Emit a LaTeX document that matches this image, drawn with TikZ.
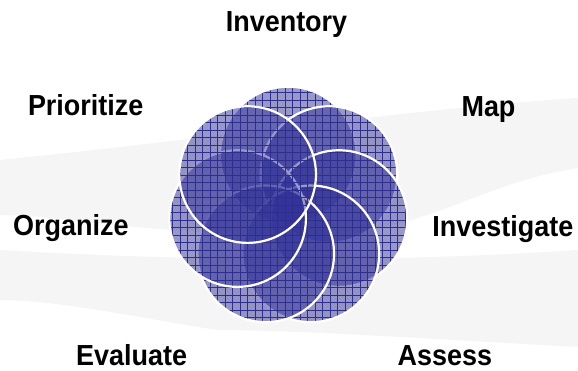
\documentclass[tikz,border=0pt]{standalone}
\usepackage{fontspec}
\usepackage{graphicx}
\setmainfont{Liberation Sans}
\usetikzlibrary{patterns}

% square grid used inside the petals
\pgfdeclarepatternformonly{petalgrid}{\pgfqpoint{-1pt}{-1pt}}{\pgfqpoint{7.5pt}{7.5pt}}{\pgfqpoint{7.5pt}{7.5pt}}{%
  \pgfsetlinewidth{0.6pt}%
  \pgfpathmoveto{\pgfqpoint{0pt}{0pt}}\pgfpathlineto{\pgfqpoint{0pt}{7.6pt}}%
  \pgfpathmoveto{\pgfqpoint{0pt}{0pt}}\pgfpathlineto{\pgfqpoint{7.6pt}{0pt}}%
  \pgfusepath{stroke}}

\definecolor{petalblue}{HTML}{333399}
\definecolor{petalline}{HTML}{2E2E8F}
\definecolor{swoosh}{HTML}{F5F5F5}

\newcommand\steplabel[1]{\scalebox{0.93}[1]{#1}}

\tikzset{
  petal/.style={circle, inner sep=0pt, minimum size=136.6pt,
    fill=petalblue, fill opacity=0.5,
    postaction={pattern=petalgrid, pattern color=petalline, fill opacity=0.8},
    postaction={draw=white, line width=2.2pt, draw opacity=1}},
  steptext/.style={anchor=base, inner sep=0pt,
    font=\bfseries\fontsize{29}{32}\selectfont, text=black},
}

\begin{document}
\begin{tikzpicture}[x=1pt, y=-1pt]
  \useasboundingbox (0,0) rectangle (578,370);
  \fill[white] (0,0) rectangle (578,370);

  % soft background waves
  \fill[swoosh] (0,160) .. controls (200,140) and (400,110) .. (578,98)
    -- (578,168) .. controls (470,185) and (430,235) .. (300,235)
    .. controls (150,235) and (60,215) .. (0,215) -- cycle;
  \fill[swoosh] (0,250) .. controls (200,262) and (400,262) .. (578,250)
    -- (578,347) .. controls (450,340) and (300,330) .. (218,330)
    .. controls (150,320) and (60,300) .. (0,300) -- cycle;

  % seven petals, laid down clockwise from the top
  \node[petal] (pinv) at (288.30,155.00) {};
  \node[petal] (pmap) at (328.95,174.58) {};
  \node[petal] (pinvest) at (338.99,218.57) {};
  \node[petal] (passess) at (310.86,253.85) {};
  \node[petal] (peval) at (265.74,253.85) {};
  \node[petal] (porg) at (237.61,218.57) {};
  \node[petal] (pprio) at (247.65,174.58) {};

  % step labels
  \node[steptext] (inventory) at (286.5,31.7) {\steplabel{Inventory}};
  \node[steptext] (map) at (488.5,116) {\steplabel{Map}};
  \node[steptext] (investigate) at (502.8,236) {\steplabel{Investigate}};
  \node[steptext] (assess) at (444.8,365) {\steplabel{Assess}};
  \node[steptext] (evaluate) at (131.7,365) {\steplabel{Evaluate}};
  \node[steptext] (organize) at (70.8,235) {\steplabel{Organize}};
  \node[steptext] (prioritize) at (85.7,115) {\steplabel{Prioritize}};
\end{tikzpicture}
\end{document}
